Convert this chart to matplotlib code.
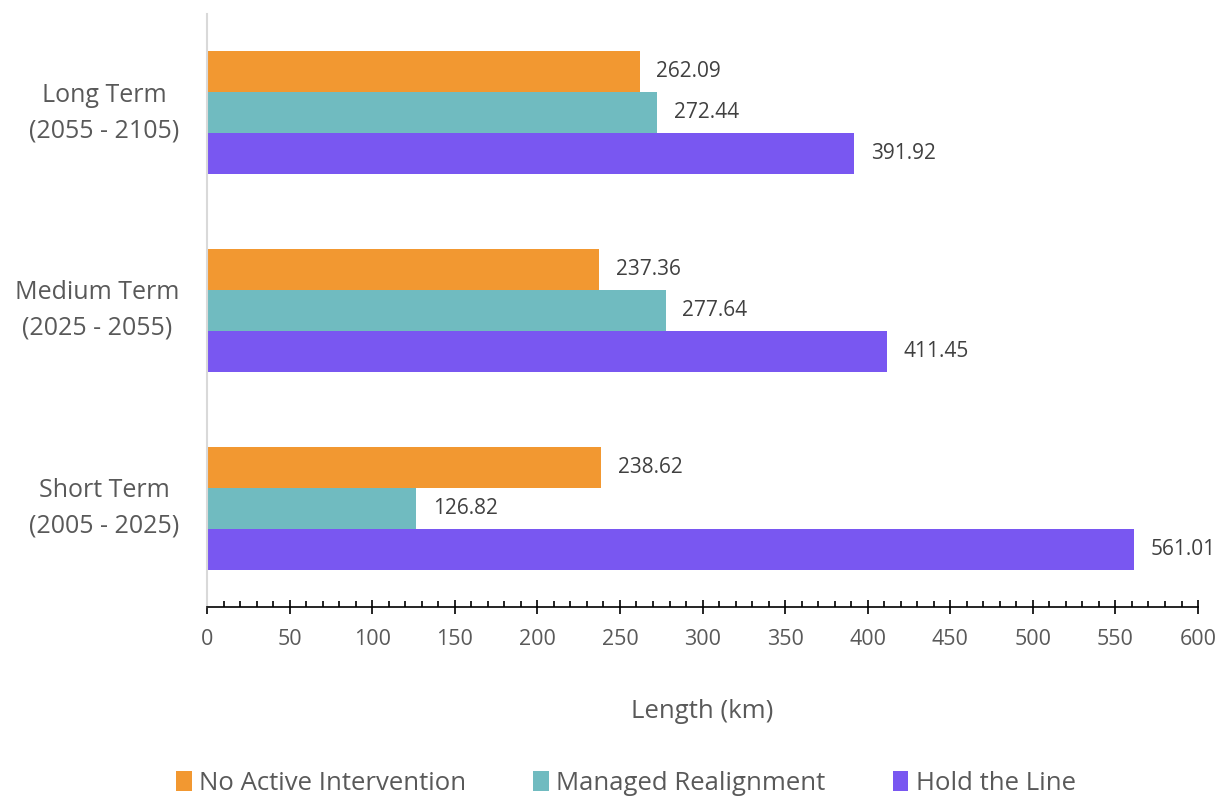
import numpy as np
import matplotlib.pyplot as plt
from matplotlib.ticker import MultipleLocator

plt.rcParams['font.family'] = ['Open Sans', 'DejaVu Sans']

# coastline length by policy and epoch
periods = ['Short Term\n(2005 - 2025)', 'Medium Term\n(2025 - 2055)', 'Long Term\n(2055 - 2105)']
no_active = [238.62, 237.36, 262.09]
managed = [126.82, 277.64, 272.44]
hold_line = [561.01, 411.45, 391.92]

series = [
    ('No Active Intervention', no_active, '#F29831', 1),
    ('Managed Realignment', managed, '#70BBC0', 0),
    ('Hold the Line', hold_line, '#7957F1', -1),
]

fig = plt.figure(figsize=(12.25, 7.96), dpi=100)
ax = fig.add_axes([0.169, 0.2374, 0.809, 0.745])

y = np.arange(len(periods))
h = 0.207
for name, vals, col, off in series:
    bars = ax.barh(y + off * h, vals, height=h, color=col, label=name)
    for b, v in zip(bars, vals):
        ax.text(v + 10, b.get_y() + b.get_height() / 2, f'{v:.2f}',
                va='center', ha='left', fontsize=15, color='#404040')

ax.set_xlim(0, 600)
ax.set_ylim(-0.5, 2.5)
ax.xaxis.set_major_locator(MultipleLocator(50))
ax.xaxis.set_minor_locator(MultipleLocator(10))
ax.tick_params(axis='x', which='major', direction='inout', length=9.5, width=1.2,
               labelsize=15.5, labelcolor='#595959', pad=11)
ax.tick_params(axis='x', which='minor', direction='in', length=4.5, width=1.2)

ax.set_yticks(y)
ax.set_yticklabels(periods)
ax.tick_params(axis='y', length=0, labelsize=18, labelcolor='#595959', pad=20)
for lab in ax.get_yticklabels():
    lab.set_multialignment('center')
    lab.set_linespacing(1.55)
    lab.set_va('center')

for s in ['top', 'right']:
    ax.spines[s].set_visible(False)
ax.spines['bottom'].set_color('black')
ax.spines['bottom'].set_linewidth(1.2)
ax.spines['left'].set_color('#D9D9D9')
ax.spines['left'].set_linewidth(1.5)

ax.set_xlabel('Length (km)', fontsize=18.5, color='#595959', labelpad=35)

fig.legend(loc='center', bbox_to_anchor=(0.511, 0.016), ncol=3, frameon=False,
           fontsize=18.5, labelcolor='#595959', handlelength=0.6, handleheight=0.85,
           handletextpad=0.3, columnspacing=2.6)

fig.savefig('out.png', dpi=100)
